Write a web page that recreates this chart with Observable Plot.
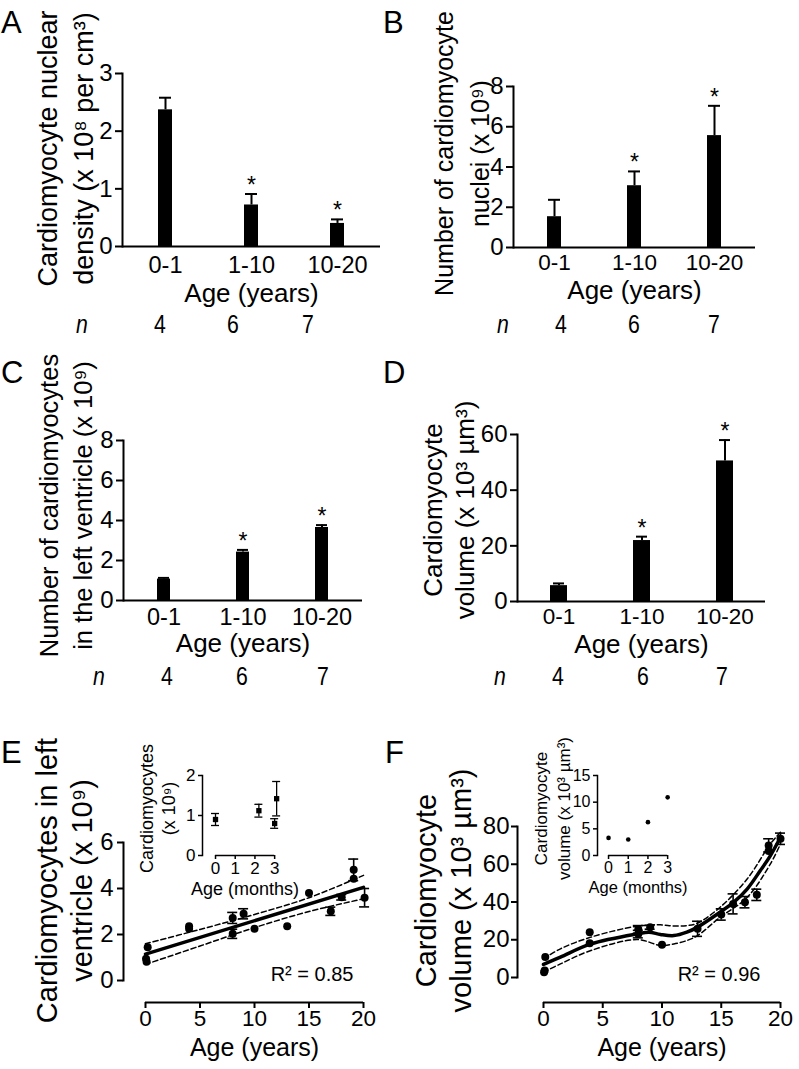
<!DOCTYPE html>
<html><head><meta charset="utf-8">
<script src="https://cdn.jsdelivr.net/npm/d3@7"></script>
<script src="https://cdn.jsdelivr.net/npm/@observablehq/plot@0.6"></script>
<style>
html,body{margin:0;padding:0;background:#fff;}
#fig{position:relative;width:799px;height:1069px;overflow:hidden;font-family:"Liberation Sans",Arial,Helvetica,sans-serif;color:#000;}
.panel{position:absolute;}
.letter{position:absolute;font-size:31px;line-height:1;}
.nrow{position:absolute;font-size:25px;line-height:1;}
.nrow span{position:absolute;top:0;white-space:nowrap;transform:translateX(-50%) scaleX(0.85);}
</style></head><body><div id="fig"></div>
<script>
// ---------- data ----------
const ageGroups = ["0-1", "1-10", "10-20"];
const nCounts = [4, 6, 7];
const significant = [false, true, true];

const nuclearDensity = [2.37, 0.72, 0.40];
const nuclearDensityErr = [0.21, 0.19, 0.07];
const nucleiNumber = [1.53, 3.07, 5.56];
const nucleiNumberErr = [0.84, 0.71, 1.48];
const lvCardiomyocytes = [1.07, 2.42, 3.65];
const lvCardiomyocytesErr = [0.06, 0.11, 0.12];
const cellVolume = [5.7, 21.9, 50.5];
const cellVolumeErr = [0.8, 1.4, 7.5];

const ticksA = [0, 1, 2, 3];
const ticksB = [0, 2, 4, 6, 8];
const ticksC = [0, 2, 4, 6, 8];
const ticksD = [0, 20, 40, 60];

// E: cardiomyocytes in LV vs age (years)
const lvAgeYears = [0.2, 0.05, 0.1, 4, 4, 8, 8, 9, 10, 13, 15, 17, 18, 19.1, 19.1, 20.1];
const lvCount    = [1.45, 0.95, 0.82, 2.36, 2.25, 2.72, 2.03, 2.9, 2.25, 2.36, 3.8, 3.01, 3.62, 4.81, 4.42, 3.6];
const lvCountErr = [null, null, null, null, null, 0.24, 0.2, 0.22, null, null, null, 0.18, 0.12, 0.47, null, 0.4];
const lvFitAge = [0, 20];
const lvFitValue = [1.15, 4.05];
const lvCiAge = [0, 5, 10, 15, 20];
const lvCiUpper = [1.6, 2.22, 2.87, 3.6, 4.57];
const lvCiLower = [0.7, 1.5, 2.3, 3.0, 3.55];
const ticksEx = [0, 5, 10, 15, 20];
const ticksEy = [0, 2, 4, 6];

// E inset: months
const infantAgeMonths = [0, 2.2, 3.0, 3.1];
const infantCount = [0.9, 1.12, 0.8, 1.42];
const infantCountErr = [0.15, 0.16, 0.12, 0.43];
const ticksEix = [0, 1, 2, 3];
const ticksEiy = [0, 1, 2];

// F: cardiomyocyte volume vs age (years)
const volAgeYears = [0.15, 0.05, 0.1, 3.9, 3.9, 8, 8, 9, 10, 13, 15, 16, 17, 18, 19, 19, 20];
const volValue    = [10.8, 2.8, 3.7, 24, 18.2, 25.5, 23, 26.6, 17.3, 25.8, 33.4, 39, 39.9, 43.8, 70, 67, 73.5];
const volErr      = [null, null, null, null, null, 2, 2, 1, null, 4, 3, 5.3, 3, 3, 3.5, null, 3];
const volFitAge   = [0, 1.43, 4, 7.9, 8.9, 9.87, 11, 12.1, 13, 14.9, 16.06, 17.2, 18.3, 19.15, 20];
const volFitValue = [6.9, 10.8, 17.8, 23.1, 24.0, 22.8, 22.2, 24, 26.7, 34.6, 39.9, 47, 56.7, 64.6, 74.3];
const volCiAge    = [0, 1.43, 4, 7.9, 9.87, 11, 12.1, 13, 14.9, 17.2, 19.15, 20];
const volCiUpper  = [9.9, 15.2, 21.4, 27.2, 27.9, 27.3, 27.5, 28.8, 37.2, 52.3, 70.8, 77];
const volCiLower  = [2.8, 7.2, 14.3, 20.1, 17, 17.8, 19.6, 22.2, 31.9, 42.5, 60.2, 70.8];
const ticksFx = [0, 5, 10, 15, 20];
const ticksFy = [0, 20, 40, 60, 80];

// F inset
const infantVolAgeMonths = [0, 1, 2, 3];
const infantVol = [3.3, 3.0, 6.25, 10.9];
const ticksFix = [0, 1, 2, 3];
const ticksFiy = [0, 5, 10, 15];

// ---------- helpers ----------
const FONT = '"Liberation Sans", Arial, Helvetica, sans-serif';
const fmt = d => String(d);
const fig = document.getElementById("fig");
function place(node, left, top, w, h) {
  const div = document.createElement("div");
  div.className = "panel";
  Object.assign(div.style, {left: left + "px", top: top + "px", width: w + "px", height: h + "px"});
  div.appendChild(node);
  fig.appendChild(div);
}
function letter(t, left, top) {
  const d = document.createElement("div");
  d.className = "letter"; d.textContent = t;
  d.style.left = left + "px"; d.style.top = top + "px";
  fig.appendChild(d);
}
function nRow(top, xs) {
  const row = document.createElement("div");
  row.className = "nrow"; row.style.left = "0px"; row.style.top = top + "px";
  const labels = ["n", ...nCounts.map(String)];
  labels.forEach((t, i) => {
    const s = document.createElement("span");
    s.textContent = t; s.style.left = xs[i] + "px";
    if (i === 0) s.style.fontStyle = "italic";
    row.appendChild(s);
  });
  fig.appendChild(row);
}
const baseStyle = {fontFamily: FONT, background: "transparent", overflow: "visible", color: "black"};

function barPanel(c) {
  const rows = ageGroups.map((g, i) => ({g, v: c.values[i], e: c.errors[i], s: significant[i]}));
  const chart = Plot.plot({
    width: c.w, height: c.h,
    marginLeft: c.ml, marginRight: c.mr, marginTop: c.mt, marginBottom: c.mb,
    style: {...baseStyle, fontSize: "23px"},
    x: {domain: ageGroups, paddingInner: c.pi, paddingOuter: c.po, label: null},
    y: {domain: c.yDomain, label: null},
    marks: [
      Plot.barY(rows, {x: "g", y: "v", fill: "black"}),
      Plot.ruleX(rows, {x: "g", y1: "v", y2: d => d.v + d.e, stroke: "black", strokeWidth: 2}),
      Plot.tickY(rows, {x: "g", y: d => d.v + d.e, stroke: "black", strokeWidth: 2, inset: c.capInset}),
      Plot.text(rows.filter(d => d.s), {x: "g", y: d => d.v + d.e, text: () => "*", fontSize: 23, lineAnchor: "bottom", dy: -1}),
      Plot.ruleY([0], {stroke: "black", strokeWidth: 2}),
      Plot.frame({anchor: "left", stroke: "black", strokeWidth: 2}),
      Plot.axisY({ticks: c.yTicks, tickFormat: fmt, tickSize: 7, tickPadding: 3, fontSize: 24, label: null, strokeWidth: 2}),
      Plot.axisX({tickSize: 0, tickPadding: c.xPad, fontSize: c.xTickFont, label: null}),
      Plot.text([c.ylabel], {frameAnchor: "left", rotate: -90, dx: c.ydx, dy: c.ydy, lineHeight: c.ylh, fontSize: c.yFont, textAnchor: "middle", lineAnchor: "middle"}),
      Plot.text(["Age (years)"], {frameAnchor: "bottom", dy: c.xdy, fontSize: 26, lineAnchor: "middle"})
    ]
  });
  place(chart, c.left, c.top, c.w, c.h);
}

function scatterPanel(c) {
  const pts = c.xs.map((x, i) => ({x, v: c.vs[i], e: c.es ? c.es[i] : null}));
  const errPts = pts.filter(d => d.e != null);
  const marks = [];
  if (c.ci) {
    const up = c.ci.x.map((x, i) => ({x, y: c.ci.upper[i]}));
    const lo = c.ci.x.map((x, i) => ({x, y: c.ci.lower[i]}));
    marks.push(Plot.line(up, {x: "x", y: "y", stroke: "black", strokeWidth: 1.5, strokeDasharray: "5,3", curve: "catmull-rom"}));
    marks.push(Plot.line(lo, {x: "x", y: "y", stroke: "black", strokeWidth: 1.5, strokeDasharray: "5,3", curve: "catmull-rom"}));
  }
  if (c.fit) {
    const fit = c.fit.x.map((x, i) => ({x, y: c.fit.y[i]}));
    marks.push(Plot.line(fit, {x: "x", y: "y", stroke: "black", strokeWidth: c.fitWidth, curve: "catmull-rom"}));
  }
  if (errPts.length) {
    marks.push(Plot.ruleX(errPts, {x: "x", y1: d => d.v - d.e, y2: d => d.v + d.e, stroke: "black", strokeWidth: c.errWidth}));
    marks.push(Plot.ruleY(errPts, {x1: "x", x2: "x", y: d => d.v + d.e, stroke: "black", strokeWidth: c.errWidth, insetLeft: -c.cap, insetRight: -c.cap}));
    marks.push(Plot.ruleY(errPts, {x1: "x", x2: "x", y: d => d.v - d.e, stroke: "black", strokeWidth: c.errWidth, insetLeft: -c.cap, insetRight: -c.cap}));
  }
  marks.push(Plot.dot(pts, {x: "x", y: "v", r: c.r, fill: "black", stroke: null, symbol: c.symbol || "circle"}));
  marks.push(Plot.frame({anchor: "left", stroke: "black", strokeWidth: c.axisWidth}));
  marks.push(Plot.ruleY([{y: c.yTicks[0], x1: c.xTicks[0], x2: c.xTicks[c.xTicks.length - 1]}], {y: "y", x1: "x1", x2: "x2", dy: c.xOffset, stroke: "black", strokeWidth: c.axisWidth}));
  marks.push(Plot.axisY({ticks: c.yTicks, tickFormat: fmt, tickSize: c.tickSize, tickPadding: c.yPad, fontSize: c.yTickFont || c.tickFont, label: null, strokeWidth: c.axisWidth}));
  marks.push(Plot.axisX({ticks: c.xTicks, tickFormat: fmt, tickSize: c.tickSize, tickPadding: c.xPad, fontSize: c.tickFont, label: null, strokeWidth: c.axisWidth, dy: c.xOffset}));
  marks.push(Plot.text([c.ylabel], {frameAnchor: "left", rotate: -90, dx: c.ydx, dy: c.ydy, lineHeight: c.ylh, fontSize: c.yFont, textAnchor: "middle", lineAnchor: "middle"}));
  const mid = (c.xTicks[0] + c.xTicks[c.xTicks.length - 1]) / 2;
  marks.push(Plot.text([{x: mid, t: c.xlabel}], {x: "x", text: "t", frameAnchor: "bottom", dy: c.xdy, fontSize: c.xFont, lineAnchor: "middle"}));
  if (c.r2) marks.push(Plot.text([c.r2], {frameAnchor: "bottom-right", textAnchor: "end", lineAnchor: "bottom", dx: c.r2dx, dy: c.r2dy, fontSize: 20}));
  const chart = Plot.plot({
    width: c.w, height: c.h,
    marginLeft: c.ml, marginRight: c.mr, marginTop: c.mt, marginBottom: c.mb,
    style: {...baseStyle, fontSize: c.tickFont + "px"},
    x: {domain: c.xDomain, label: null},
    y: {domain: c.yDomain, label: null},
    marks
  });
  place(chart, c.left, c.top, c.w, c.h);
}

// ---------- panels A-D ----------
barPanel({left: 0, top: 0, w: 400, h: 330, ml: 122, mr: 20, mt: 73, mb: 84, pi: 0.838, po: 0.41, capInset: 1,
  values: nuclearDensity, errors: nuclearDensityErr, yDomain: [0, 3], yTicks: ticksA,
  ylabel: "Cardiomyocyte nuclear\ndensity (x 10⁸ per cm³)", yFont: 27, ydx: -59, ydy: -11.5, ylh: 1.33, xPad: 10, xTickFont: 23.5, xdy: 47});
barPanel({left: 400, top: 0, w: 399, h: 330, ml: 113, mr: 44, mt: 86, mb: 83, pi: 0.826, po: 0.42, capInset: 1,
  values: nucleiNumber, errors: nucleiNumberErr, yDomain: [0, 8], yTicks: ticksB,
  ylabel: "Number of cardiomyocyte\nnuclei (x 10⁹)", yFont: 25, ydx: -54, ydy: -13.5, ylh: 1.44, xPad: 7, xTickFont: 22.5, xdy: 43});
barPanel({left: 0, top: 330, w: 400, h: 330, ml: 123, mr: 38, mt: 110, mb: 60, pi: 0.8375, po: 0.42, capInset: 1,
  values: lvCardiomyocytes, errors: lvCardiomyocytesErr, yDomain: [0, 8], yTicks: ticksC,
  ylabel: "Number of cardiomyocytes\nin the left ventricle (x 10⁹)", yFont: 25.5, ydx: -59, ydy: -15, ylh: 1.33, xPad: 8, xTickFont: 23.5, xdy: 43});
barPanel({left: 400, top: 330, w: 399, h: 330, ml: 117, mr: 34, mt: 104, mb: 59, pi: 0.796, po: 0.377, capInset: 3,
  values: cellVolume, errors: cellVolumeErr, yDomain: [0, 60], yTicks: ticksD,
  ylabel: "Cardiomyocyte\nvolume (x 10³ µm³)", yFont: 26, ydx: -70, ydy: -8, ylh: 1.23, xPad: 7, xTickFont: 22.5, xdy: 43});

// ---------- panels E-F ----------
scatterPanel({left: 0, top: 660, w: 400, h: 409, ml: 123, mr: 37, mt: 182, mb: 89,
  xDomain: [-2.018, 20], yDomain: [0, 6], xTicks: ticksEx, yTicks: ticksEy,
  xs: lvAgeYears, vs: lvCount, es: lvCountErr, r: 4, cap: 5, errWidth: 1.6,
  fit: {x: lvFitAge, y: lvFitValue}, fitWidth: 3.5,
  ci: {x: lvCiAge, upper: lvCiUpper, lower: lvCiLower},
  axisWidth: 2, tickSize: 6, yPad: 4, xPad: 2, tickFont: 22.5, yTickFont: 24, xOffset: 22,
  ylabel: "Cardiomyocytes in left\nventricle (x 10⁹)", yFont: 29, ydx: -60, ydy: -31, ylh: 1.2,
  xlabel: "Age (years)", xFont: 25, xdy: 67, r2: "R² = 0.85", r2dx: -10, r2dy: 0});
scatterPanel({left: 400, top: 660, w: 399, h: 409, ml: 117, mr: 19, mt: 166, mb: 92,
  xDomain: [-2.194, 20], yDomain: [0, 80], xTicks: ticksFx, yTicks: ticksFy,
  xs: volAgeYears, vs: volValue, es: volErr, r: 4, cap: 5, errWidth: 1.6,
  fit: {x: volFitAge, y: volFitValue}, fitWidth: 3.5,
  ci: {x: volCiAge, upper: volCiUpper, lower: volCiLower},
  axisWidth: 2, tickSize: 6, yPad: 2, xPad: 2, tickFont: 22.5, yTickFont: 24, xOffset: 25,
  ylabel: "Cardiomyocyte\nvolume (x 10³ µm³)", yFont: 29, ydx: -75, ydy: -11.5, ylh: 1.2,
  xlabel: "Age (years)", xFont: 25, xdy: 70, r2: "R² = 0.96", r2dx: -20, r2dy: 3});

// ---------- insets ----------
scatterPanel({left: 120, top: 740, w: 180, h: 160, ml: 82, mr: 15, mt: 35, mb: 45,
  xDomain: [-0.66, 3.55], yDomain: [0, 2], xTicks: ticksEix, yTicks: ticksEiy,
  xs: infantAgeMonths, vs: infantCount, es: infantCountErr, r: 3, symbol: "square", cap: 4, errWidth: 1.3,
  axisWidth: 1.5, tickSize: 4, yPad: 3, xPad: 2, tickFont: 17, xOffset: 0,
  ylabel: "Cardiomyocytes\n(x 10⁹)", yFont: 18, ydx: -46, ydy: -7, ylh: 1.22,
  xlabel: "Age (months)", xFont: 18, xdy: 34});
scatterPanel({left: 520, top: 740, w: 170, h: 160, ml: 77, mr: 13, mt: 35, mb: 45,
  xDomain: [-0.56, 3.5], yDomain: [0, 15], xTicks: ticksFix, yTicks: ticksFiy,
  xs: infantVolAgeMonths, vs: infantVol, es: null, r: 2.3, cap: 4, errWidth: 1.3,
  axisWidth: 1.5, tickSize: 4, yPad: 3, xPad: 2, tickFont: 16, xOffset: 0,
  ylabel: "Cardiomyocyte\nvolume (x 10³ µm³)", yFont: 17, ydx: -46.5, ydy: -7, ylh: 1.35,
  xlabel: "Age (months)", xFont: 16.5, xdy: 32});

// ---------- panel letters & n rows ----------
letter("A", 1, 7); letter("B", 383, 7);
letter("C", 1, 357); letter("D", 383, 357);
letter("E", 1, 737); letter("F", 385, 737);
nRow(312, [82, 160, 233, 308]);
nRow(312, [503, 561, 634, 714]);
nRow(664, [99, 167, 242, 323]);
nRow(664, [500, 558, 643, 722]);
</script>
</body></html>
